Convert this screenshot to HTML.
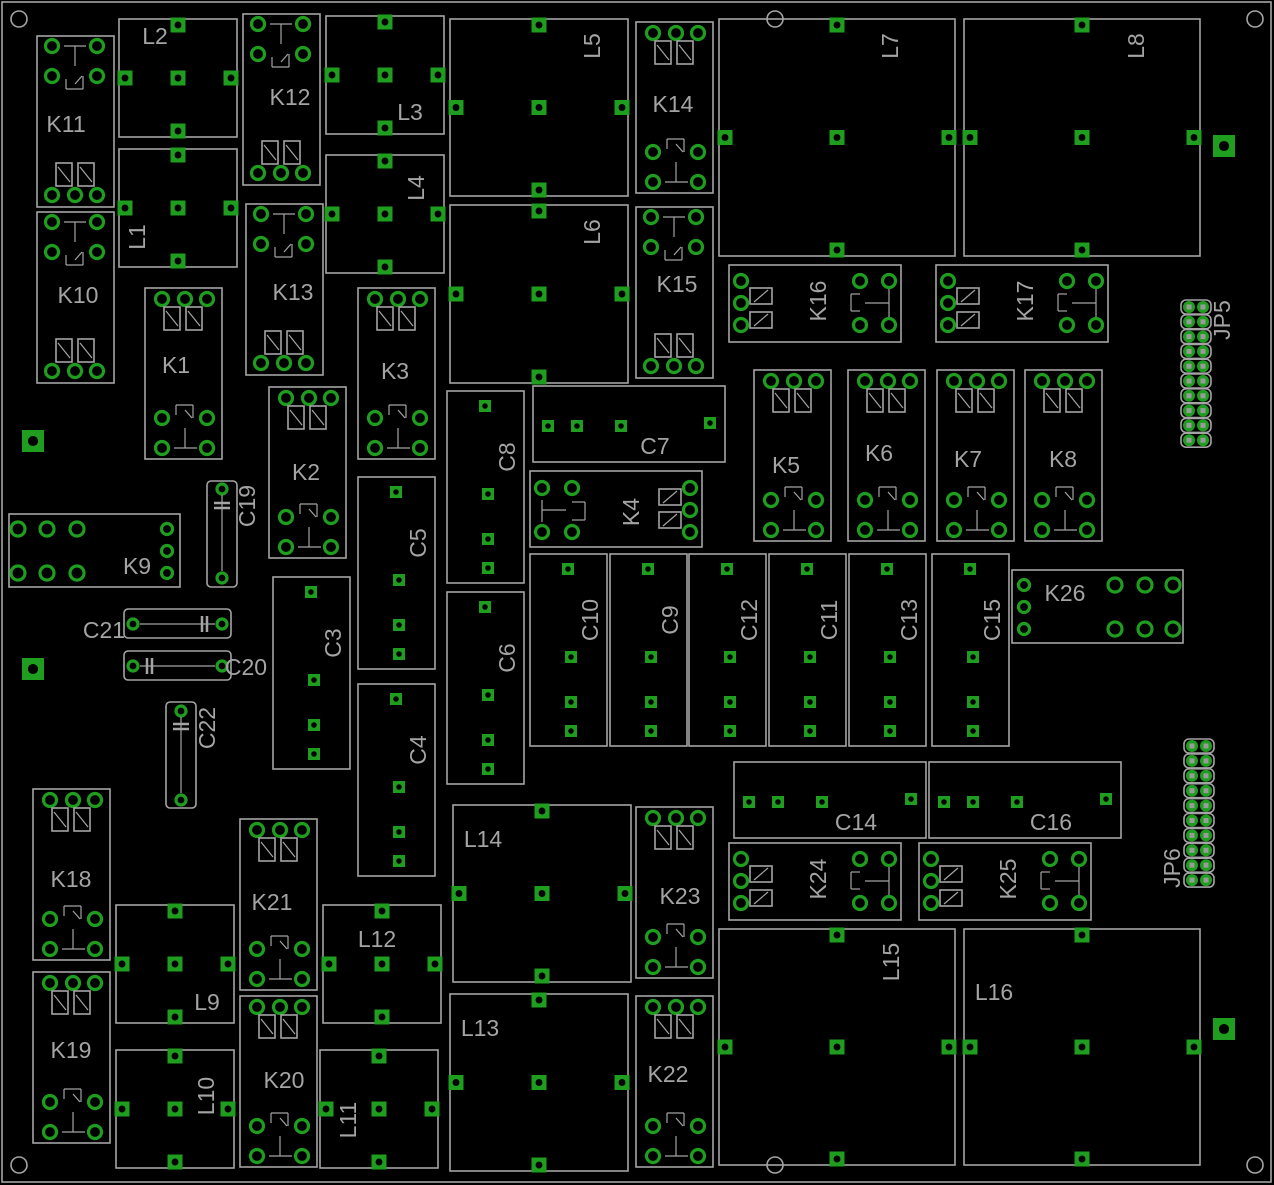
<!DOCTYPE html>
<html><head><meta charset="utf-8"><style>
html,body{margin:0;padding:0;background:#000;}
svg{display:block;}
text{font-family:"Liberation Sans",sans-serif;font-size:23px;fill:#a4a4a4;}
</style></head><body>
<svg id="s" xmlns="http://www.w3.org/2000/svg" width="1274" height="1185" viewBox="0 0 1274 1185">
<rect x="0" y="0" width="1274" height="1185" fill="#000"/>
<g id="g"></g>
</svg>
<script>
const NS="http://www.w3.org/2000/svg",G=document.getElementById('g');
const GR="#1f9d1f",OL="#a4a4a4";
function el(t,a,txt){const e=document.createElementNS(NS,t);for(const k in a)e.setAttribute(k,a[k]);if(txt!==undefined)e.textContent=txt;G.appendChild(e);return e;}
function R(x1,y1,x2,y2,rx){el('rect',{x:x1,y:y1,width:x2-x1,height:y2-y1,fill:'none',stroke:OL,'stroke-width':1.6,rx:rx||0});}
function L(x1,y1,x2,y2,w){el('line',{x1,y1,x2,y2,stroke:OL,'stroke-width':w||1.6});}
function SQ(x,y,s){el('rect',{x:x-s/2,y:y-s/2,width:s,height:s,fill:GR});el('circle',{cx:x,cy:y,r:s*0.23,fill:'#000'});}
function RP(x,y,r){el('circle',{cx:x,cy:y,r:r||6.5,fill:'#000',stroke:GR,'stroke-width':3.2});}
function T(x,y,s,rot){el('text',{x:0,y:0,'text-anchor':'middle','dominant-baseline':'central',transform:`translate(${x},${y})`+(rot?' rotate(-90)':'')},s);}
function coilV(x,y){R(x,y,x+16,y+23);L(x+2,y+4,x+14,y+19,1.2);}
function coilH(x,y){R(x,y,x+22,y+16);L(x+4,y+14,x+18,y+2,1.2);}
// board
R(2,2,1271,1182);
[[19,19],[775,19],[1255,19],[19,1165],[775,1165],[1255,1165]].forEach(p=>el('circle',{cx:p[0],cy:p[1],r:8,fill:'none',stroke:OL,'stroke-width':1.6}));
[[33,441],[33,669],[1224,146],[1224,1029]].forEach(p=>SQ(p[0],p[1],22));
// inductors
function IND(x1,y1,x2,y2){R(x1,y1,x2,y2);const cx=(x1+x2)/2,cy=(y1+y2)/2;SQ(cx,y1+6,15);SQ(x1+6,cy,15);SQ(cx,cy,15);SQ(x2-6,cy,15);SQ(cx,y2-6,15);}
[[119,19,237,137],[119,149,237,267],[326,16,444,134],[326,155,444,273],[450,19,628,196],[450,205,628,383],[719,19,955,256],[964,19,1200,256],
[116,905,234,1023],[116,1050,234,1168],[320,1050,438,1168],[323,905,441,1023],[450,994,628,1171],[453,805,631,982],[719,929,955,1165],[964,929,1200,1165]].forEach(a=>IND(...a));
T(155,36,'L2');T(137,237,'L1',1);T(410,112,'L3');T(416,188,'L4',1);T(592,46,'L5',1);T(592,232,'L6',1);T(890,46,'L7',1);T(1136,46,'L8',1);
T(207,1002,'L9');T(206,1096,'L10',1);T(348,1120,'L11',1);T(377,939,'L12');T(480,1028,'L13');T(483,839,'L14');T(891,962,'L15',1);T(994,992,'L16');
// vertical caps
function CV(x1,y1,name){R(x1,y1,x1+77,y1+192);SQ(x1+38,y1+15,12);SQ(x1+41,y1+103,12);SQ(x1+41,y1+148,12);SQ(x1+41,y1+177,12);T(x1+60,y1+66,name,1);}
CV(447,391,'C8');CV(447,592,'C6');CV(358,477,'C5');CV(358,684,'C4');CV(273,577,'C3');
CV(530,554,'C10');CV(610,554,'C9');CV(689,554,'C12');CV(769,554,'C11');CV(849,554,'C13');CV(932,554,'C15');
function CH(x1,y1,name){R(x1,y1,x1+192,y1+76);SQ(x1+15,y1+40,12);SQ(x1+44,y1+40,12);SQ(x1+88,y1+40,12);SQ(x1+177,y1+37,12);T(x1+122,y1+60,name);}
CH(533,386,'C7');CH(734,762,'C14');CH(929,762,'C16');
// small caps
R(207,481,237,587,4);RP(222,489,5);RP(222,578,5);L(222,495,222,571,1.2);L(214,503,230,503,2.5);L(214,508,230,508,2.5);T(247,506,'C19',1);
R(166,702,196,808,4);RP(181,711,5);RP(181,800,5);L(181,717,181,793,1.2);L(173,724,189,724,2.5);L(173,729,189,729,2.5);T(207,728,'C22',1);
R(124,609,231,638,4);RP(133,624,5);RP(222,624,5);L(140,624,215,624,1.2);L(202,616,202,632,2.5);L(207,616,207,632,2.5);T(104,630,'C21');
R(124,651,231,680,4);RP(133,666,5);RP(222,666,5);L(140,666,215,666,1.2);L(147,658,147,674,2.5);L(152,658,152,674,2.5);T(246,667,'C20');
// relay type A (4 pads top, coils bottom)
function KA(x,y,name,lx,ly){R(x,y,x+77,y+171);RP(x+15,y+10);RP(x+60,y+10);RP(x+15,y+40);RP(x+60,y+40);
L(x+27,y+10,x+49,y+10,1.2);L(x+38,y+10,x+38,y+30,1.2);L(x+29,y+43,x+29,y+53,1.2);L(x+29,y+53,x+46,y+53,1.2);L(x+46,y+53,x+46,y+40,1.2);L(x+38,y+48,x+45,y+40,1.2);
coilV(x+19,y+127);coilV(x+41,y+127);RP(x+15,y+159);RP(x+38,y+159);RP(x+60,y+159);T(lx,ly,name);}
KA(37,36,'K11',66,124);KA(37,212,'K10',78,295);KA(243,14,'K12',290,97);KA(246,204,'K13',293,292);KA(636,207,'K15',677,284);
// relay type B (3 pads top, 4 bottom)
function KB(x,y,name,lx,ly){R(x,y,x+77,y+171);RP(x+17,y+11);RP(x+40,y+11);RP(x+62,y+11);coilV(x+19,y+19);coilV(x+41,y+19);
RP(x+17,y+130);RP(x+62,y+130);RP(x+17,y+160);RP(x+62,y+160);
L(x+29,y+160,x+52,y+160,1.2);L(x+40,y+160,x+40,y+140,1.2);L(x+31,y+127,x+31,y+117,1.2);L(x+31,y+117,x+48,y+117,1.2);L(x+48,y+117,x+48,y+130,1.2);L(x+40,y+122,x+47,y+130,1.2);T(lx,ly,name);}
KB(145,288,'K1',176,365);KB(636,22,'K14',673,104);KB(269,387,'K2',306,472);KB(358,288,'K3',395,371);
KB(754,370,'K5',786,465);KB(848,370,'K6',879,453);KB(937,370,'K7',968,459);KB(1025,370,'K8',1063,459);
KB(33,789,'K18',71,879);KB(33,972,'K19',71,1050);KB(240,819,'K21',272,902);KB(240,996,'K20',284,1080);KB(636,807,'K23',680,896);KB(636,996,'K22',668,1074);
// horizontal relays
function KH(x,y,name){R(x,y,x+172,y+77);RP(x+12,y+16);RP(x+12,y+38);RP(x+12,y+60);coilH(x+21,y+23);coilH(x+21,y+47);
RP(x+131,y+16);RP(x+160,y+16);RP(x+131,y+60);RP(x+160,y+60);L(x+160,y+24,x+160,y+52,1.2);L(x+136,y+38,x+160,y+38,1.2);
L(x+122,y+29,x+122,y+46,1.2);L(x+122,y+29,x+131,y+29,1.2);L(x+122,y+46,x+131,y+46,1.2);T(x+89,y+36,name,1);}
KH(729,265,'K16');KH(936,265,'K17');KH(729,843,'K24');KH(919,843,'K25');
// K4 mirrored
R(530,471,702,547);RP(542,488);RP(572,488);RP(542,532);RP(572,532);L(542,500,542,522,1.2);L(542,510,566,510,1.2);L(572,502,585,502,1.2);L(585,502,585,520,1.2);L(572,520,585,520,1.2);
coilH(659,489);coilH(659,512);RP(690,488);RP(690,510);RP(690,532);T(631,512,'K4',1);
// K9
R(9,514,180,587);[18,47,77].forEach(x=>{RP(x,529,7);RP(x,573,7);});RP(167,529,5.5);RP(167,551,5.5);RP(167,573,5.5);T(137,566,'K9');
// K26
R(1012,570,1183,643);RP(1024,585,5.5);RP(1024,607,5.5);RP(1024,629,5.5);[1115,1145,1173].forEach(x=>{RP(x,585,7);RP(x,629,7);});T(1065,593,'K26');
// headers
function HDR(x,y0,step){for(let i=0;i<10;i++){const y=y0+i*step;R(x-8,y-7,x+22,y+7,5);[x,x+14].forEach(cx=>{el('circle',{cx:cx,cy:y,r:6,fill:GR});el('rect',{x:cx-2.5,y:y-2.5,width:5,height:5,fill:'#9a9a9a'});});}}
HDR(1189,307,14.8);HDR(1192,746,14.9);
T(1222,320,'JP5',1);T(1172,868,'JP6',1);
</script>
</body></html>
